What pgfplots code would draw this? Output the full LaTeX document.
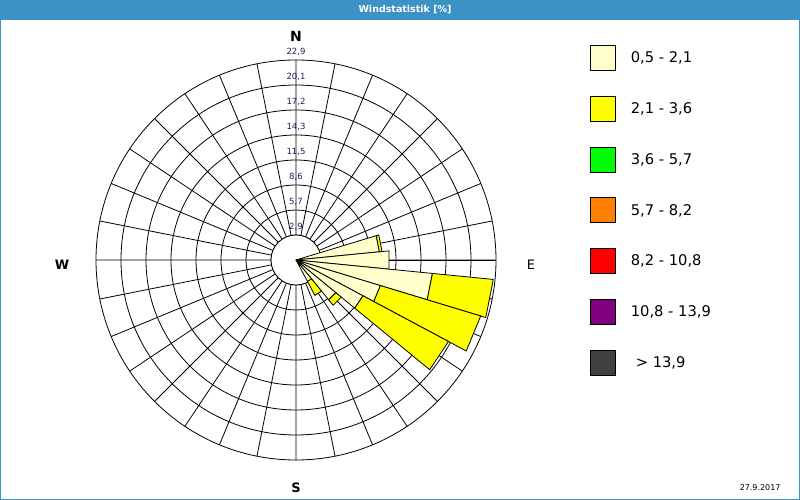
\documentclass[border=0pt]{standalone}
\usepackage{fontspec}
\setmainfont{DejaVu Sans}
\usepackage{pgfplots}
\pgfplotsset{compat=1.18}
\usepgfplotslibrary{polar}
\definecolor{titleblue}{RGB}{60,146,197}
\definecolor{pale}{RGB}{255,255,204}
\definecolor{cyellow}{RGB}{255,255,0}
\definecolor{cgreen}{RGB}{0,255,0}
\definecolor{corange}{RGB}{255,128,0}
\definecolor{cred}{RGB}{255,0,0}
\definecolor{cpurple}{RGB}{128,0,128}
\definecolor{cdark}{RGB}{64,64,64}
\definecolor{lblue}{RGB}{30,30,100}
\begin{document}
\begin{tikzpicture}
\fill[white] (0pt,0pt) rectangle (800pt,500pt);
\fill[titleblue] (0pt,480pt) rectangle (800pt,500pt);
\draw[titleblue, line width=1pt] (0.5pt,0.5pt) rectangle (799.5pt,499.5pt);
\node[white, font=\bfseries\fontsize{9.5}{11}\selectfont] at (405pt,490pt) {Windstatistik [\%]};
\begin{polaraxis}[
  at={(296pt,240pt)}, anchor=center,
  width=400pt, height=400pt, scale only axis,
  xmin=0, xmax=360, ymin=0, ymax=22.9,
  xtick={0,11.25,22.5,33.75,45,56.25,67.5,78.75,90,101.25,112.5,123.75,135,146.25,157.5,168.75,180,191.25,202.5,213.75,225,236.25,247.5,258.75,270,281.25,292.5,303.75,315,326.25,337.5,348.75},
  ytick={2.8625,5.725,8.5875,11.45,14.3125,17.175,20.0375},
  xticklabels={}, yticklabels={},
  major tick length=0pt,
  xmajorgrids, ymajorgrids,
  grid style={black, line width=0.8pt},
  axis line style={black, line width=0.8pt},
  clip=false,
  legend style={at={(axis description cs:1.235,1.0375)}, anchor=north west,
    draw=none, fill=none, inner sep=0pt, outer sep=0pt,
    row sep=25pt, column sep=15pt,
    nodes={inner sep=0pt},
    font=\fontsize{14.7}{16}\selectfont},
  legend cell align=left,
  legend image code/.code={\draw[#1, line width=0.8pt] (0pt,-12.5pt) rectangle (25pt,12.5pt);},
]
\draw[fill=white, line width=0.8pt] (axis cs:0,0) circle[radius=25pt];
% class 0,5 - 2,1 (pale)
\addplot[forget plot, fill=pale, draw=black, line width=0.8pt] coordinates {(0,0) (5.625,9.6) (16.875,9.6)} -- cycle;
\addplot[forget plot, fill=pale, draw=black, line width=0.8pt] coordinates {(0,0) (354.375,10.7) (365.625,10.7)} -- cycle;
\addplot[forget plot, fill=pale, draw=black, line width=0.8pt] coordinates {(0,0) (343.125,15.7) (354.375,15.7)} -- cycle;
\addplot[forget plot, fill=pale, draw=black, line width=0.8pt] coordinates {(0,0) (331.875,10.1) (343.125,10.1)} -- cycle;
\addplot[forget plot, fill=pale, draw=black, line width=0.8pt] coordinates {(0,0) (320.625,8.7) (331.875,8.7)} -- cycle;
\addplot[forget plot, fill=pale, draw=black, line width=0.8pt] coordinates {(0,0) (309.375,5.9) (320.625,5.9)} -- cycle;
\addplot[forget plot, fill=pale, draw=black, line width=0.8pt] coordinates {(0,0) (298.125,2.8) (309.375,2.8)} -- cycle;
% class 2,1 - 3,6 (yellow)
\addplot[forget plot, fill=cyellow, draw=black, line width=0.8pt] coordinates {(5.625,9.6) (16.875,9.6) (16.875,9.9) (5.625,9.9)} -- cycle;
\addplot[forget plot, fill=cyellow, draw=black, line width=0.8pt] coordinates {(343.125,15.7) (354.375,15.7) (354.375,22.7) (343.125,22.7)} -- cycle;
\addplot[forget plot, fill=cyellow, draw=black, line width=0.8pt] coordinates {(331.875,10.1) (343.125,10.1) (343.125,22.1) (331.875,22.1)} -- cycle;
\addplot[forget plot, fill=cyellow, draw=black, line width=0.8pt] coordinates {(320.625,8.7) (331.875,8.7) (331.875,19.8) (320.625,19.8)} -- cycle;
\addplot[forget plot, fill=cyellow, draw=black, line width=0.8pt] coordinates {(309.375,5.9) (320.625,5.9) (320.625,6.7) (309.375,6.7)} -- cycle;
\addplot[forget plot, fill=cyellow, draw=black, line width=0.8pt] coordinates {(298.125,2.8) (309.375,2.8) (309.375,4.6) (298.125,4.6)} -- cycle;
% legend
\addlegendimage{fill=pale, draw=black}
\addlegendentry{0,5 - 2,1}
\addlegendimage{fill=cyellow, draw=black}
\addlegendentry{2,1 - 3,6}
\addlegendimage{fill=cgreen, draw=black}
\addlegendentry{3,6 - 5,7}
\addlegendimage{fill=corange, draw=black}
\addlegendentry{5,7 - 8,2}
\addlegendimage{fill=cred, draw=black}
\addlegendentry{8,2 - 10,8}
\addlegendimage{fill=cpurple, draw=black}
\addlegendentry{10,8 - 13,9}
\addlegendimage{fill=cdark, draw=black}
\addlegendentry{\hspace{5pt}> 13,9}
% ring labels
\foreach \r/\t in {2.8625/{2,9},5.725/{5,7},8.5875/{8,6},11.45/{11,5},14.3125/{14,3},17.175/{17,2},20.0375/{20,1},22.9/{22,9}}{
  \edef\temp{\noexpand\node[text=lblue, font=\noexpand\fontsize{8.5}{10}\noexpand\selectfont, yshift=8.5pt] at (axis cs:90,\r) {\t};}
  \temp
}
\end{polaraxis}
\node[font=\bfseries\fontsize{14}{16}\selectfont] at (296pt,464pt) {N};
\node[font=\bfseries\fontsize{13}{15}\selectfont] at (62pt,235.5pt) {W};
\node[font=\fontsize{13}{15}\selectfont] at (531pt,235.5pt) {E};
\node[font=\bfseries\fontsize{13}{15}\selectfont] at (296pt,12.5pt) {S};
\node[font=\fontsize{8}{10}\selectfont, anchor=east] at (784pt,12pt) {27.9.2017};
\end{tikzpicture}
\end{document}
